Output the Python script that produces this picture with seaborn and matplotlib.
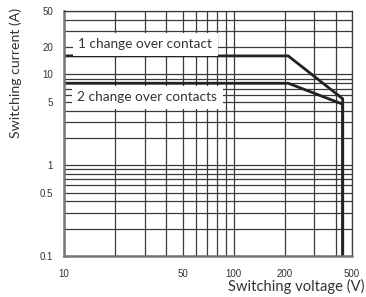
import pandas as pd
import seaborn as sns
import matplotlib.pyplot as plt
from matplotlib.ticker import LogLocator, FixedLocator, FixedFormatter, NullFormatter

# switching limit curves
voltage_1 = [10, 210, 440, 440]
current_1 = [16, 16, 5.4, 0.1]
voltage_2 = [10, 210, 440, 440]
current_2 = [8, 8, 4.7, 0.1]
labels = ["1 change over contact", "2 change over contacts"]

x_ticks = [10, 50, 100, 200, 500]
x_tick_labels = ["10", "50", "100", "200", "500"]
y_ticks = [0.1, 0.5, 1, 5, 10, 20, 50]
y_tick_labels = ["0.1", "0.5", "1", "5", "10", "20", "50"]

df = pd.concat([
    pd.DataFrame({"voltage": voltage_1, "current": current_1, "curve": labels[0]}),
    pd.DataFrame({"voltage": voltage_2, "current": current_2, "curve": labels[1]}),
])

sns.set_style("white")
fig = plt.figure(figsize=(3.66, 2.97), dpi=100)
ax = fig.add_axes([0.175, 0.138, 0.787, 0.825])

ax.set_xscale("log")
ax.set_yscale("log")
ax.set_xlim(10, 500)
ax.set_ylim(0.1, 50)

# log grid, major + minor
ax.xaxis.set_minor_locator(LogLocator(base=10, subs=range(1, 10)))
ax.yaxis.set_minor_locator(LogLocator(base=10, subs=range(1, 10)))
ax.xaxis.set_minor_formatter(NullFormatter())
ax.yaxis.set_minor_formatter(NullFormatter())
ax.grid(True, which="both", color="#3a3a3a", lw=0.9)
ax.set_axisbelow(True)

for name in labels:
    sub = df[df["curve"] == name]
    sns.lineplot(data=sub, x="voltage", y="current", sort=False, estimator=None,
                 color="#222222", lw=2.0, ax=ax)

ax.xaxis.set_major_locator(FixedLocator(x_ticks))
ax.xaxis.set_major_formatter(FixedFormatter(x_tick_labels))
ax.yaxis.set_major_locator(FixedLocator(y_ticks))
ax.yaxis.set_major_formatter(FixedFormatter(y_tick_labels))
ax.tick_params(which="both", length=0, labelsize=7, colors="#333333")
ax.tick_params(axis="x", pad=9)
ax.tick_params(axis="y", pad=8)
for lab in ax.get_xticklabels() + ax.get_yticklabels():
    lab.set_fontfamily("Liberation Sans")

for side in ["left", "bottom"]:
    ax.spines[side].set_color("#777777")
    ax.spines[side].set_linewidth(1.8)
for side in ["top", "right"]:
    ax.spines[side].set_color("#3a3a3a")
    ax.spines[side].set_linewidth(0.9)

box = dict(facecolor="white", edgecolor="none", pad=4)
ax.text(12.1, 21.4, labels[0], fontsize=9.8, family="Lato",
        color="#333333", va="center", ha="left", bbox=box)
ax.text(12.0, 5.6, labels[1], fontsize=9.8, family="Lato",
        color="#333333", va="center", ha="left", bbox=box)

ax.set_xlabel("")
ax.set_ylabel("")
fig.text(0.995, 0.01, "Switching voltage (V)", fontsize=10.6, family="Lato",
         color="#333333", ha="right", va="bottom")
fig.text(0.027, 0.535, "Switching current (A)", fontsize=10.2, family="Lato",
         color="#333333", ha="left", va="bottom", rotation=90)

fig.savefig("out.png", dpi=100)
